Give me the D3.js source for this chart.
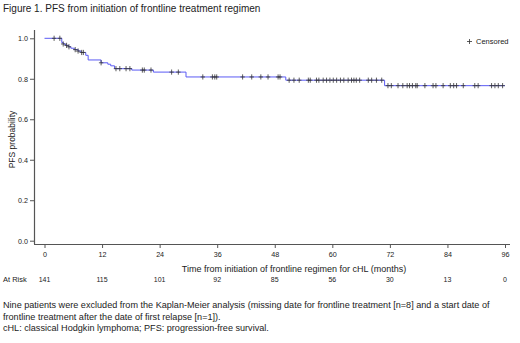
<!DOCTYPE html>
<html><head><meta charset="utf-8">
<script src="https://cdn.jsdelivr.net/npm/d3@7"></script>
<style>body{margin:0;background:#fff}svg{display:block}text{font-family:"Liberation Sans",Arial,sans-serif;fill:#222}</style>
</head><body><svg id="c" width="520" height="343"></svg>
<script>
// Kaplan-Meier step function (time in months, survival probability)
const stepTimes = [0, 3.6, 3.9, 4.4, 5.0, 5.5, 6.2, 7.0, 7.6, 8.6, 9.1, 11.8, 13.2, 13.8, 14.6, 18.2, 22.7, 29.5, 50.3, 70.9];
const stepSurv  = [1.0, 0.979, 0.972, 0.965, 0.958, 0.951, 0.944, 0.937, 0.930, 0.916, 0.893, 0.879, 0.872, 0.864, 0.850, 0.843, 0.833, 0.809, 0.793, 0.766];
const endTime = 96;
const censorTimes = [2.0, 3.2, 3.9, 4.6, 5.1, 6.4, 7.0, 7.75, 8.1, 11.8, 14.9, 15.7, 17.0, 17.8, 20.4, 20.8, 22.2, 26.5, 27.9,
  33.0, 35.0, 35.5, 35.9, 41.3, 43.2, 45.1, 46.6, 48.7, 49.1,
  51.0, 52.0, 53.1, 55.0, 55.4, 56.7, 57.2, 58.1, 58.8, 59.5, 60.2, 60.9, 61.7, 62.4, 63.3, 64.0, 64.5, 65.0, 65.7, 67.5, 68.2, 69.2, 70.3,
  71.6, 72.3, 73.7, 74.7, 75.6, 76.1, 76.7, 77.4, 77.7, 79.3, 81.0, 81.6, 83.1, 84.6, 85.3, 85.9, 87.3, 89.7, 90.4, 93.2, 93.9, 94.6, 95.5];
const xTicks = [0, 12, 24, 36, 48, 60, 72, 84, 96];
const yTicks = [0.0, 0.2, 0.4, 0.6, 0.8, 1.0];
const atRisk = [141, 115, 101, 92, 85, 56, 30, 13, 0];
const titleText = "Figure 1. PFS from initiation of frontline treatment regimen";
const xTitle = "Time from initiation of frontline regimen for cHL (months)";
const yTitle = "PFS probability";
const legendText = "Censored";
const footnotes = [
  "Nine patients were excluded from the Kaplan-Meier analysis (missing date for frontline treatment [n=8] and a start date of",
  "frontline treatment after the date of first relapse [n=1]).",
  "cHL: classical Hodgkin lymphoma; PFS: progression-free survival."
];

const svg = d3.select("#c");
const x = d3.scaleLinear().domain([0, 96]).range([44.5, 505]);
const y = d3.scaleLinear().domain([0, 1]).range([240.7, 38.3]);
const axisColor = "#555";

svg.append("text").attr("x", 3).attr("y", 12).attr("font-size", 10).attr("fill", "#333").text(titleText);

// axes
const gx = svg.append("g").attr("transform", "translate(0,244)")
  .call(d3.axisBottom(x).tickValues(xTicks).tickSize(4).tickPadding(4).tickFormat(d3.format("d")));
gx.select(".domain").attr("d", "M34,0.5H510");
const gy = svg.append("g").attr("transform", "translate(34,0)")
  .call(d3.axisLeft(y).tickValues(yTicks).tickSize(4).tickPadding(2).tickFormat(d3.format(".1f")));
gy.select(".domain").attr("d", "M0.5,30V244");
[gx, gy].forEach(g => {
  g.selectAll(".domain").attr("stroke", axisColor).attr("stroke-width", 1.2);
  g.selectAll(".tick line").attr("stroke", axisColor);
  g.selectAll(".tick text").attr("font-size", 7.2).attr("fill", "#222").attr("font-family", "Liberation Sans, Arial, sans-serif");
});

svg.append("text").attr("transform", `translate(15,${y(0.5)}) rotate(-90)`).attr("text-anchor", "middle")
  .attr("font-size", 8.5).text(yTitle);
svg.append("text").attr("x", 294).attr("y", 272).attr("text-anchor", "middle").attr("font-size", 9).text(xTitle);

// KM curve
const pts = stepTimes.map((t, i) => [t, stepSurv[i]]);
pts.push([endTime, stepSurv[stepSurv.length - 1]]);
svg.append("path").attr("d", d3.line().x(d => x(d[0])).y(d => y(d[1])).curve(d3.curveStepAfter)(pts))
  .attr("fill", "none").attr("stroke", "#5b5bf5").attr("stroke-width", 1);

function S(t) { let s = 1; for (let i = 0; i < stepTimes.length; i++) if (stepTimes[i] <= t) s = stepSurv[i]; return s; }
svg.append("g").selectAll("path").data(censorTimes).join("path")
  .attr("d", d => `M${x(d)},${y(S(d)) - 2.6}V${y(S(d)) + 2.6}M${x(d) - 2.2},${y(S(d))}H${x(d) + 2.2}`)
  .attr("stroke", "#333").attr("stroke-width", 0.8).attr("fill", "none");

// legend
svg.append("path").attr("d", "M467,41.5H472M469.5,39V44").attr("stroke", "#333").attr("stroke-width", 0.8);
svg.append("text").attr("x", 476).attr("y", 44).attr("font-size", 7.5).text(legendText);

// at risk
svg.append("text").attr("x", 3).attr("y", 282).attr("font-size", 7.5).text("At Risk");
svg.append("g").selectAll("text").data(atRisk).join("text")
  .attr("x", (d, i) => x(xTicks[i])).attr("y", 282).attr("text-anchor", "middle").attr("font-size", 7).text(d => d);

// footnotes
svg.append("g").selectAll("text").data(footnotes).join("text")
  .attr("x", 3).attr("y", (d, i) => 308 + i * 11.5).attr("font-size", 9.1).attr("fill", "#333").text(d => d);
</script></body></html>
